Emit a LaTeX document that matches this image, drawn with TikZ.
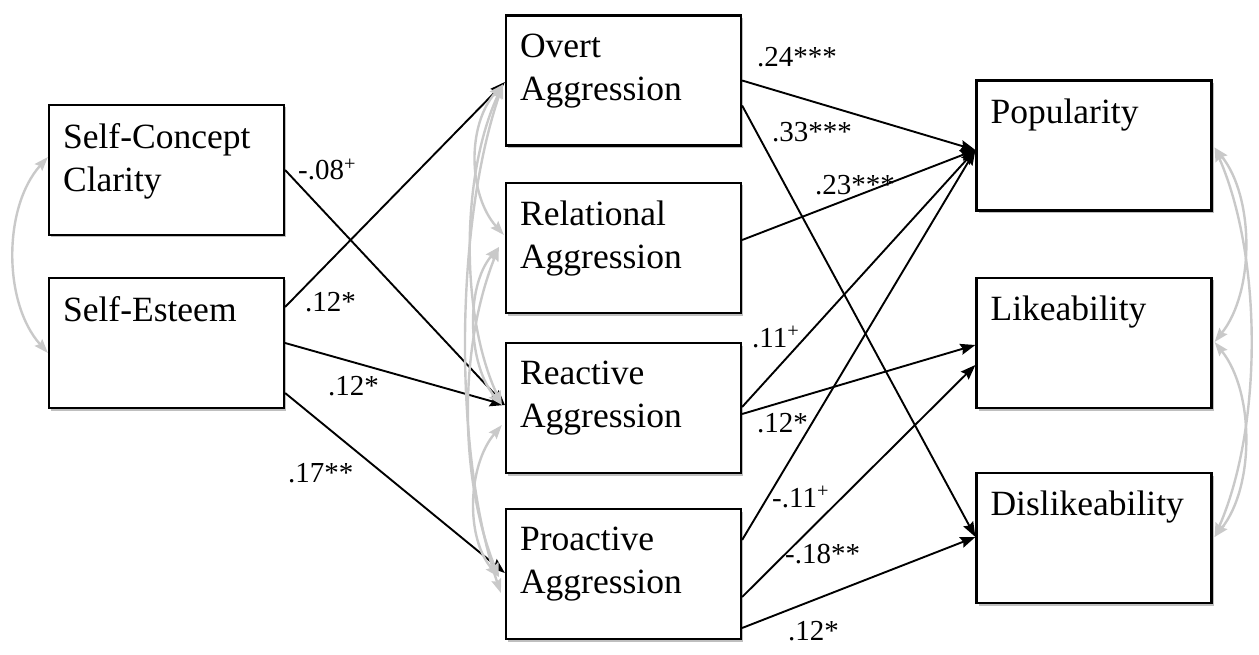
\documentclass[tikz,border=0pt]{standalone}
\usepackage{fontspec}
\setmainfont{Liberation Serif}
\usetikzlibrary{arrows.meta,shadows}
\begin{document}
\begin{tikzpicture}[x=1pt,y=-1pt,
  box/.style={draw, line width=2.2pt, fill=white, minimum width=235pt, minimum height=130pt, inner sep=0pt,
     drop shadow={shadow xshift=2pt, shadow yshift=-2.5pt, opacity=0.25, fill=black}},
  lab/.style={anchor=north west, inner sep=0pt, align=left, font=\fontsize{35.5}{43}\selectfont},
  coef/.style={anchor=base west, inner sep=0pt, font=\fontsize{29}{34}\selectfont},
  arr/.style={line width=1.9pt, -{Stealth[length=15pt,width=11pt,inset=2pt]}},
  cov/.style={draw=gray!42, line width=2.4pt, {Stealth[length=14pt,width=10pt,inset=2pt]}-{Stealth[length=14pt,width=10pt,inset=2pt]}}
]
\useasboundingbox (0,0) rectangle (1259,655);
% boxes
\node[box] (scc) at (166.5,170) {};
\node[box] (se) at (166.5,343) {};
\node[box] (ov) at (623.5,80.5) {};
\node[box] (rel) at (623.5,248) {};
\node[box] (rea) at (623.5,408) {};
\node[box] (pro) at (623.5,574) {};
\node[box] (pop) at (1094,145.5) {};
\node[box] (lik) at (1094,343) {};
\node[box] (dis) at (1094,538) {};
% box texts
\node[lab] (tscc) at ([xshift=15pt,yshift=-19pt]scc.north west) {Self-Concept\\Clarity};
\node[lab] (tse) at ([xshift=15pt,yshift=-19pt]se.north west) {Self-Esteem};
\node[lab] (tov) at ([xshift=15pt,yshift=-19pt]ov.north west) {Overt\\Aggression};
\node[lab] (trel) at ([xshift=15pt,yshift=-19pt]rel.north west) {Relational\\Aggression};
\node[lab] (trea) at ([xshift=15pt,yshift=-19pt]rea.north west) {Reactive\\Aggression};
\node[lab] (tpro) at ([xshift=15pt,yshift=-19pt]pro.north west) {Proactive\\Aggression};
\node[lab] (tpop) at ([xshift=15pt,yshift=-19pt]pop.north west) {Popularity};
\node[lab] (tlik) at ([xshift=15pt,yshift=-19pt]lik.north west) {Likeability};
\node[lab] (tdis) at ([xshift=15pt,yshift=-19pt]dis.north west) {Dislikeability};
% anchor coordinates
\coordinate (popin) at ([yshift=-4.5pt]pop.west);
\coordinate (reain) at ([yshift=3pt]rea.west);
% paths
\draw[arr] (scc.east) -- (reain);
\draw[arr] ([yshift=36pt]se.east) -- ([yshift=-1.5pt]ov.west);
\draw[arr] (se.east) -- (reain);
\draw[arr] ([yshift=-50pt]se.east) -- ([yshift=1pt]pro.west);
\draw[arr] (ov.east) -- (popin);
\draw[arr] ([yshift=-25pt]ov.east) -- ([yshift=1pt]dis.west);
\draw[arr] ([yshift=8pt]rel.east) -- (popin);
\draw[arr] ([yshift=1pt]rea.east) -- (popin);
\draw[arr] ([yshift=-6pt]rea.east) -- ([yshift=-2pt]lik.west);
\draw[arr] ([yshift=34pt]pro.east) -- (popin);
\draw[arr] ([yshift=-23pt]pro.east) -- ([yshift=-22pt]lik.west);
\draw[arr] ([yshift=-54pt]pro.east) -- ([yshift=1pt]dis.west);
% covariances
\draw[cov] ([yshift=13pt]scc.west) .. controls +(-45,50) and +(-45,-50) .. ([yshift=-10pt]se.west);
\draw[cov] ([xshift=-2pt,yshift=-4pt]ov.west) .. controls +(-36,40) and +(-36,-40) .. ([xshift=-1pt,yshift=13pt]rel.west);
\draw[cov] ([xshift=-2pt,yshift=-4pt]ov.west) .. controls +(-42,90) and +(-42,-90) .. ([xshift=-3pt,yshift=3pt]rea.west);
\draw[cov] ([xshift=-2pt,yshift=-4pt]ov.west) .. controls +(-48,140) and +(-48,-140) .. ([xshift=-4pt,yshift=-19pt]pro.west);
\draw[cov] ([xshift=-6pt,yshift=1pt]rel.west) .. controls +(-34,40) and +(-34,-40) .. ([xshift=-3pt,yshift=3pt]rea.west);
\draw[cov] ([xshift=-6pt,yshift=1pt]rel.west) .. controls +(-40,100) and +(-40,-100) .. ([xshift=-6pt,yshift=-3pt]pro.west);
\draw[cov] ([xshift=-3pt,yshift=-17pt]rea.west) .. controls +(-34,40) and +(-34,-40) .. ([xshift=-6pt,yshift=-3pt]pro.west);
\draw[cov] ([xshift=2pt,yshift=-2pt]pop.east) .. controls +(40,50) and +(40,-50) .. ([xshift=2pt,yshift=1pt]lik.east);
\draw[cov] ([xshift=2pt,yshift=-2pt]pop.east) .. controls +(48,110) and +(48,-110) .. ([xshift=2pt,yshift=1pt]dis.east);
\draw[cov] ([xshift=2pt,yshift=1pt]lik.east) .. controls +(40,50) and +(40,-50) .. ([xshift=2pt,yshift=1pt]dis.east);
% coefficients
\node[coef] (c1) at (298,180) {-.08\textsuperscript{+}};
\node[coef] (c2) at (305,312) {.12*};
\node[coef] (c3) at (328,395) {.12*};
\node[coef] (c4) at (288,482) {.17**};
\node[coef] (c5) at (757,67) {.24***};
\node[coef] (c6) at (772,142) {.33***};
\node[coef] (c7) at (815,195) {.23***};
\node[coef] (c8) at (752,347) {.11\textsuperscript{+}};
\node[coef] (c9) at (757,432) {.12*};
\node[coef] (c10) at (772,507) {-.11\textsuperscript{+}};
\node[coef] (c11) at (785,563) {-.18**};
\node[coef] (c12) at (788,640) {.12*};
\end{tikzpicture}
\end{document}
